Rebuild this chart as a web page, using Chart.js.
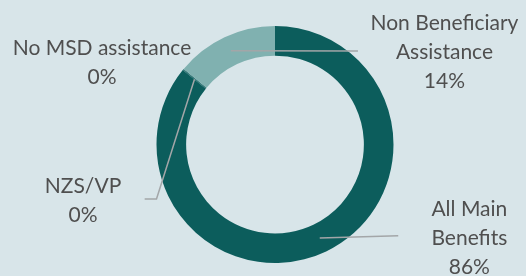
<!DOCTYPE html>
<html lang="en">
<head>
  <meta charset="UTF-8">
  <title>MSD assistance</title>
  <script src="https://cdn.jsdelivr.net/npm/chart.js"></script>
  <style>
    html, body { margin: 0; padding: 0; background: #d8e5e9; }
    canvas { display: block; }
  </style>
</head>
<body>
  <canvas id="donut" width="526" height="276"></canvas>

  <script>
    // Data (percent of total)
    const categories = ['All Main Benefits', 'NZS/VP', 'No MSD assistance', 'Non Beneficiary Assistance'];
    const shares = [85.8, 0.1, 0.1, 14.0];
    const sliceColors = ['#0c5d5c', '#0c5d5c', '#0c5d5c', '#80b1b0'];
    // label lines as shown beside each slice
    const labelLines = [['All Main', 'Benefits'], ['NZS/VP'], ['No MSD assistance'], ['Non Beneficiary', 'Assistance']];

    // where each label sits, relative to centre, in units of the outer radius
    // [label x, label y of first line, leader end x, leader end y, elbow x]
    const labelPlace = [
      [1.64, 0.55, 1.04, 0.77, null],
      [-1.62, 0.35, -1.10, 0.46, -1.0],
      [-1.46, -0.81, null, null, null],
      [1.43, -1.02, 0.70, -0.79, null]
    ];

    const leaderPlugin = {
      id: 'leaders',
      afterDatasetsDraw(chart) {
        const ctx = chart.ctx;
        const meta = chart.getDatasetMeta(0);
        const total = shares.reduce((a, b) => a + b, 0);
        ctx.save();
        meta.data.forEach((arc, i) => {
          const p = arc.getProps(['x', 'y', 'startAngle', 'endAngle', 'innerRadius', 'outerRadius'], true);
          const R = p.outerRadius;
          const mid = (p.startAngle + p.endAngle) / 2;
          const r = p.innerRadius + (p.outerRadius - p.innerRadius) * 0.5;
          const ax = p.x + Math.cos(mid) * r;
          const ay = p.y + Math.sin(mid) * r;
          const pl = labelPlace[i];

          if (pl[2] !== null) {
            ctx.strokeStyle = '#a3a6a8';
            ctx.lineWidth = 1.5;
            ctx.beginPath();
            ctx.moveTo(ax, ay);
            if (pl[4] !== null) {
              ctx.lineTo(p.x + pl[4] * R, p.y + pl[3] * R);
            }
            ctx.lineTo(p.x + pl[2] * R, p.y + pl[3] * R);
            ctx.stroke();
          }

          const lines = labelLines[i].concat([Math.round(shares[i] / total * 100) + '%']);
          ctx.fillStyle = '#4f4f4f';
          ctx.font = '21px Lato, "Open Sans", sans-serif';
          ctx.textAlign = 'center';
          ctx.textBaseline = 'middle';
          lines.forEach((t, k) => {
            ctx.fillText(t, p.x + pl[0] * R, p.y + pl[1] * R + k * 29);
          });
        });
        ctx.restore();
      }
    };

    new Chart(document.getElementById('donut'), {
      type: 'doughnut',
      data: {
        labels: categories,
        datasets: [{
          data: shares,
          backgroundColor: sliceColors,
          borderWidth: 0
        }]
      },
      options: {
        responsive: false,
        animation: false,
        cutout: '75%',
        layout: { padding: { top: 26, bottom: 13, left: 24, right: 0 } },
        plugins: {
          legend: { display: false },
          tooltip: { enabled: false }
        }
      },
      plugins: [leaderPlugin]
    });
  </script>
</body>
</html>
